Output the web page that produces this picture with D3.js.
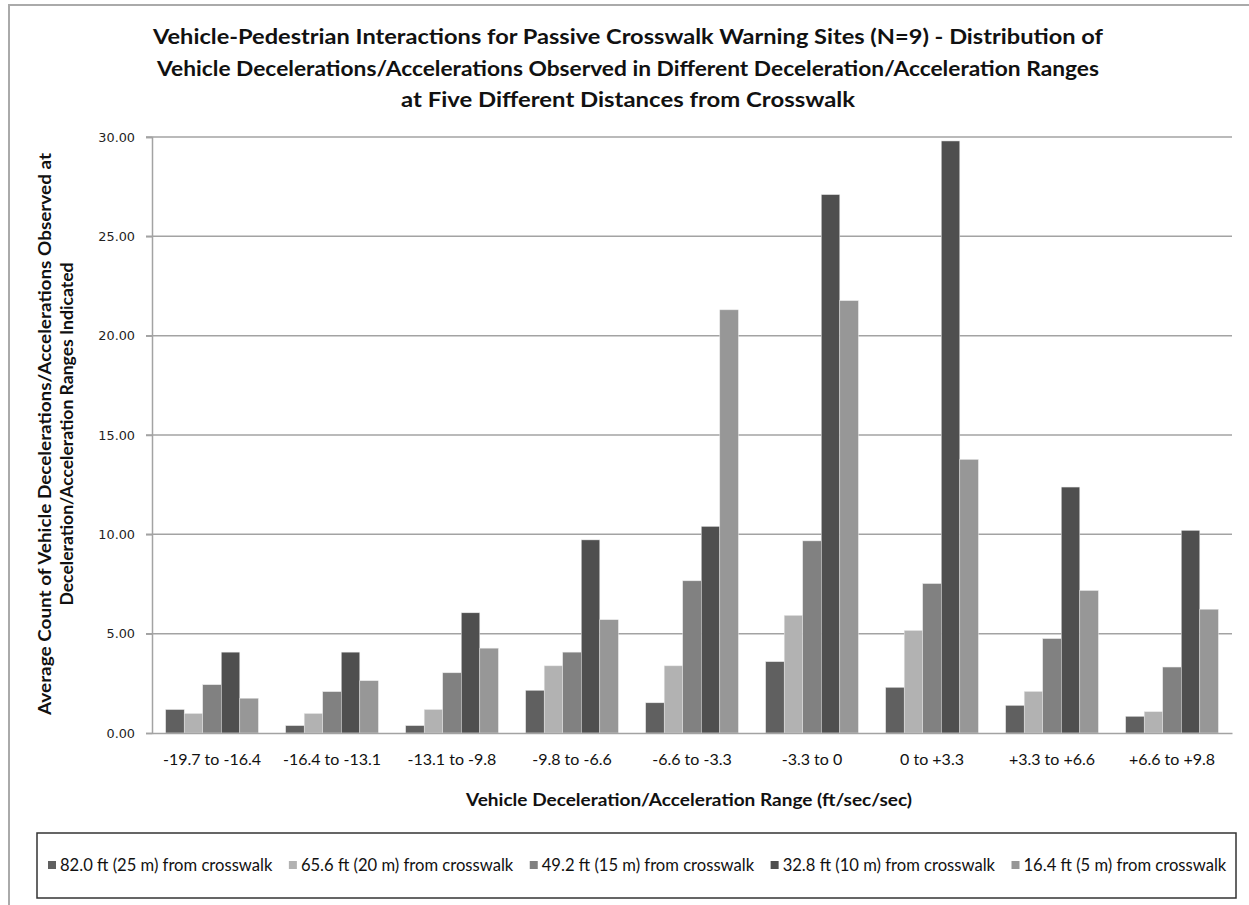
<!DOCTYPE html>
<html>
<head>
<meta charset="utf-8">
<script src="https://cdn.jsdelivr.net/npm/d3@7"></script>
<style>
  html, body { margin: 0; padding: 0; background: #fff; }
  svg { display: block; }
</style>
</head>
<body>
<div id="chart"></div>
<script>
// ---------------- data ----------------
const categories = ["-19.7 to -16.4", "-16.4 to -13.1", "-13.1 to -9.8", "-9.8 to -6.6", "-6.6 to -3.3",
                    "-3.3 to 0", "0 to +3.3", "+3.3 to +6.6", "+6.6 to +9.8"];
const seriesNames = ["82.0 ft (25 m) from crosswalk", "65.6 ft (20 m) from crosswalk",
                     "49.2 ft (15 m) from crosswalk", "32.8 ft (10 m) from crosswalk",
                     "16.4 ft (5 m) from crosswalk"];
const s82 = [1.18, 0.37, 0.37, 2.15, 1.52, 3.59, 2.30, 1.39, 0.84];
const s66 = [0.98, 0.98, 1.18, 3.38, 3.38, 5.92, 5.16, 2.09, 1.07];
const s49 = [2.43, 2.08, 3.03, 4.07, 7.66, 9.67, 7.52, 4.75, 3.32];
const s33 = [4.07, 4.07, 6.05, 9.72, 10.40, 27.10, 29.80, 12.38, 10.20];
const s16 = [1.75, 2.63, 4.27, 5.70, 21.30, 21.76, 13.77, 7.17, 6.23];
const yTicks = [0, 5, 10, 15, 20, 25, 30];
const colors = ["#606060", "#b2b2b2", "#818181", "#4f4f4f", "#979797"];

const titleLines = [
  "Vehicle-Pedestrian Interactions for Passive Crosswalk Warning Sites (N=9) - Distribution of",
  "Vehicle Decelerations/Accelerations Observed in Different Deceleration/Acceleration Ranges",
  "at Five Different Distances from Crosswalk"
];
const yTitleLines = [
  "Average Count of Vehicle Decelerations/Accelerations Observed at",
  "Deceleration/Acceleration Ranges Indicated"
];
const xTitle = "Vehicle Deceleration/Acceleration Range (ft/sec/sec)";

const allSeries = [s82, s66, s49, s33, s16];

// ---------------- layout ----------------
const W = 1249, H = 905;
const plot = { left: 152, right: 1232, top: 137, bottom: 733 };

const svg = d3.select("#chart").append("svg")
  .attr("width", W).attr("height", H)
  .attr("font-family", "Lato, 'Open Sans', sans-serif");

svg.append("rect").attr("width", W).attr("height", H).attr("fill", "#fff");

// outer (cropped) chart border: top and left
svg.append("path")
  .attr("d", `M9,${H} L9,5 L${W},5`)
  .attr("fill", "none").attr("stroke", "#aaaaaa").attr("stroke-width", 2);

// scales
const x0 = d3.scaleBand().domain(categories)
  .range([plot.left, plot.right]).paddingInner(0.228).paddingOuter(0.114);
const x1 = d3.scaleBand().domain(d3.range(seriesNames.length))
  .range([0, x0.bandwidth()]);
const y = d3.scaleLinear().domain([0, 30]).range([plot.bottom, plot.top]);

// gridlines
svg.append("g").selectAll("line").data(yTicks.filter(d => d > 0)).join("line")
  .attr("x1", plot.left - 6).attr("x2", plot.right)
  .attr("y1", d => y(d)).attr("y2", d => y(d))
  .attr("stroke", "#a3a3a3").attr("stroke-width", 1.5);

// y axis
const yAxis = d3.axisLeft(y).tickValues(yTicks).tickFormat(d3.format(".2f")).tickSize(6).tickPadding(11);
const gy = svg.append("g").attr("transform", `translate(${plot.left},0)`).call(yAxis);
gy.select(".domain").attr("stroke", "#a3a3a3").attr("stroke-width", 1.5);
gy.selectAll(".tick line").attr("stroke", "#a3a3a3").attr("stroke-width", 1.5);
gy.selectAll(".tick text").attr("font-family", "'DejaVu Sans', sans-serif")
  .attr("font-size", 12.8).attr("fill", "#222");

// bars
const groups = svg.append("g").selectAll("g").data(categories).join("g")
  .attr("transform", d => `translate(${x0(d)},0)`);
groups.selectAll("rect")
  .data((c, i) => allSeries.map((s, k) => ({ k, v: s[i] })))
  .join("rect")
  .attr("x", d => x1(d.k))
  .attr("width", x1.bandwidth())
  .attr("y", d => y(d.v))
  .attr("height", d => y(0) - y(d.v))
  .attr("fill", d => colors[d.k])
  .attr("stroke", "#e6e6e6").attr("stroke-width", 0.5);

// x axis
const xAxis = d3.axisBottom(x0).tickSize(0).tickPadding(21);
const gx = svg.append("g").attr("transform", `translate(0,${plot.bottom})`).call(xAxis);
gx.select(".domain").attr("stroke", "#a3a3a3").attr("stroke-width", 1.5);
gx.selectAll(".tick text").attr("font-family", "Lato, sans-serif")
  .attr("font-size", 16).attr("fill", "#111");

// title
svg.append("g").selectAll("text").data(titleLines).join("text")
  .attr("x", 628).attr("y", (d, i) => 44 + i * 31.5)
  .attr("text-anchor", "middle")
  .attr("font-size", 20).attr("font-weight", "bold").attr("fill", "#111")
  .attr("textLength", (d, i) => [950, 942, 454][i])
  .attr("lengthAdjust", "spacingAndGlyphs")
  .text(d => d);

// y title
svg.append("g").selectAll("text").data(yTitleLines).join("text")
  .attr("transform", (d, i) => `translate(${51 + i * 22},434) rotate(-90)`)
  .attr("text-anchor", "middle")
  .attr("font-size", 16.5).attr("font-weight", "bold").attr("fill", "#111")
  .attr("textLength", (d, i) => [562, 343][i])
  .attr("lengthAdjust", "spacingAndGlyphs")
  .text(d => d);

// x title
svg.append("text")
  .attr("x", 689).attr("y", 806).attr("text-anchor", "middle")
  .attr("font-size", 16.5).attr("font-weight", "bold").attr("fill", "#111")
  .attr("textLength", 446).attr("lengthAdjust", "spacingAndGlyphs")
  .text(xTitle);

// legend
svg.append("rect")
  .attr("x", 37).attr("y", 833).attr("width", 1199).attr("height", 65)
  .attr("fill", "#fff").attr("stroke", "#333").attr("stroke-width", 1.5);
const leg = svg.append("g");
let lx = 48;
seriesNames.forEach((name, k) => {
  leg.append("rect").attr("x", lx).attr("y", 861).attr("width", 8).attr("height", 8)
    .attr("fill", colors[k]);
  const t = leg.append("text").attr("x", lx + 12).attr("y", 870.5)
    .attr("font-size", 16.6).attr("fill", "#111").text(name);
  lx += 12 + t.node().getComputedTextLength() + 16.5;
});
</script>
</body>
</html>
